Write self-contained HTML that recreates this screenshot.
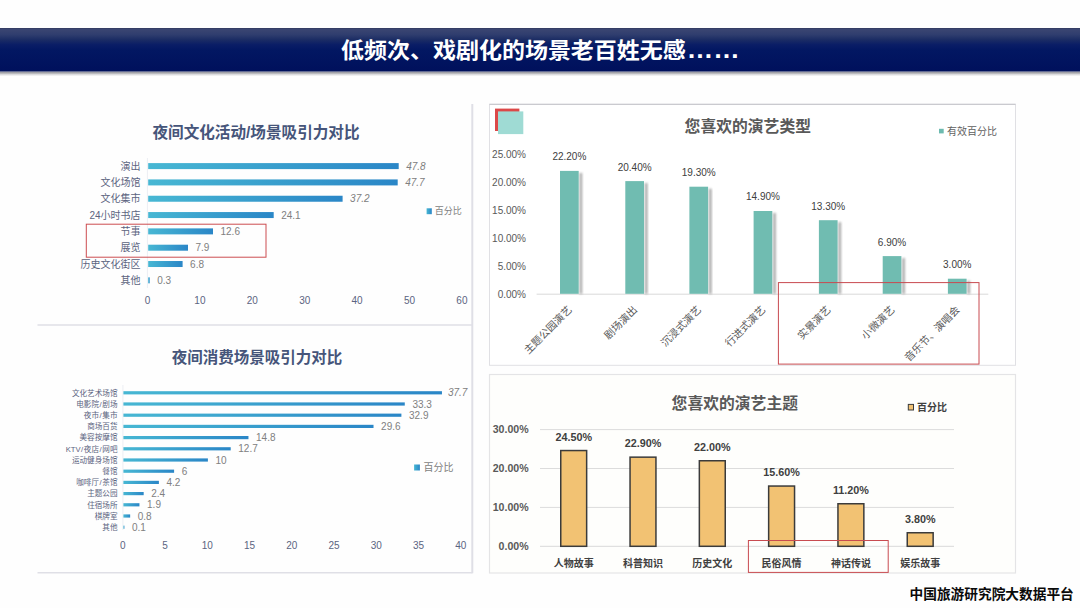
<!DOCTYPE html>
<html><head><meta charset="utf-8"><title>slide</title>
<style>
html,body{margin:0;padding:0;background:#fefefe;}
body{width:1080px;height:608px;overflow:hidden;}
svg{display:block;font-family:"Liberation Sans", "Noto Sans CJK SC", sans-serif;}
</style></head>
<body>
<svg width="1080" height="608" viewBox="0 0 1080 608">
<defs>
<linearGradient id="hdr" x1="0" y1="0" x2="0" y2="1">
<stop offset="0" stop-color="#30385a"/>
<stop offset="0.025" stop-color="#3b4672"/>
<stop offset="0.156" stop-color="#2f3d6e"/>
<stop offset="0.27" stop-color="#1b2c64"/>
<stop offset="0.384" stop-color="#0a1d66"/>
<stop offset="0.506" stop-color="#021762"/>
<stop offset="1" stop-color="#00105c"/>
</linearGradient>
<linearGradient id="hbar" x1="0" y1="0" x2="1" y2="0">
<stop offset="0" stop-color="#47b7d3"/>
<stop offset="1" stop-color="#2a86c7"/>
</linearGradient>
<linearGradient id="hshadow" x1="0" y1="0" x2="0" y2="1">
<stop offset="0" stop-color="#8e8e9a"/>
<stop offset="0.3" stop-color="#aaaaae"/>
<stop offset="0.65" stop-color="#e4e4e6"/>
<stop offset="1" stop-color="#fefefe"/>
</linearGradient>
<filter id="blur1" x="-50%" y="-50%" width="200%" height="200%"><feGaussianBlur stdDeviation="0.8"/></filter>
</defs>
<rect x="0.00" y="0.00" width="1080.00" height="608.00" fill="#fefefe" />
<rect x="0.00" y="71.50" width="1080.00" height="5.00" fill="url(#hshadow)" />
<rect x="0.00" y="28.00" width="1080.00" height="43.50" fill="url(#hdr)" />
<text transform="translate(341,57.6) scale(1,0.96)" x="0" y="0" font-size="23" fill="#ffffff" font-weight="bold">低频次、戏剧化的场景老百姓无感<tspan font-size="26.5" dx="1">……</tspan></text>
<line x1="472.30" y1="103.90" x2="472.30" y2="573.30" stroke="#dfdfe6" stroke-width="2" />
<line x1="37.50" y1="325.00" x2="472.40" y2="325.00" stroke="#dfdfe6" stroke-width="1.5" />
<line x1="37.50" y1="572.80" x2="472.40" y2="572.80" stroke="#dfdfe6" stroke-width="1.5" />
<text x="256.00" y="137.50" font-size="15.6" fill="#46557a" text-anchor="middle" font-weight="bold" >夜间文化活动/场景吸引力对比</text>
<line x1="147.40" y1="158.00" x2="147.40" y2="288.00" stroke="#eceef3" stroke-width="1" />
<rect x="148.20" y="163.10" width="250.50" height="6.00" fill="url(#hbar)" />
<text x="140.50" y="169.70" font-size="10" fill="#5c6480" text-anchor="end" font-weight="normal" >演出</text>
<text x="406.20" y="169.60" font-size="10" fill="#808080" text-anchor="start" font-weight="normal" font-style="italic">47.8</text>
<rect x="148.20" y="179.42" width="249.50" height="6.00" fill="url(#hbar)" />
<text x="140.50" y="186.02" font-size="10" fill="#5c6480" text-anchor="end" font-weight="normal" >文化场馆</text>
<text x="405.20" y="185.92" font-size="10" fill="#808080" text-anchor="start" font-weight="normal" font-style="italic">47.7</text>
<rect x="148.20" y="195.74" width="194.40" height="6.00" fill="url(#hbar)" />
<text x="140.50" y="202.34" font-size="10" fill="#5c6480" text-anchor="end" font-weight="normal" >文化集市</text>
<text x="350.10" y="202.24" font-size="10" fill="#808080" text-anchor="start" font-weight="normal" font-style="italic">37.2</text>
<rect x="148.20" y="212.06" width="125.50" height="6.00" fill="url(#hbar)" />
<text x="140.50" y="218.66" font-size="10" fill="#5c6480" text-anchor="end" font-weight="normal" >24小时书店</text>
<text x="281.20" y="218.56" font-size="10" fill="#808080" text-anchor="start" font-weight="normal" >24.1</text>
<rect x="148.20" y="228.38" width="64.80" height="6.00" fill="url(#hbar)" />
<text x="140.50" y="234.98" font-size="10" fill="#5c6480" text-anchor="end" font-weight="normal" >节事</text>
<text x="220.50" y="234.88" font-size="10" fill="#808080" text-anchor="start" font-weight="normal" >12.6</text>
<rect x="148.20" y="244.70" width="39.80" height="6.00" fill="url(#hbar)" />
<text x="140.50" y="251.30" font-size="10" fill="#5c6480" text-anchor="end" font-weight="normal" >展览</text>
<text x="195.50" y="251.20" font-size="10" fill="#808080" text-anchor="start" font-weight="normal" >7.9</text>
<rect x="148.20" y="261.02" width="34.40" height="6.00" fill="url(#hbar)" />
<text x="140.50" y="267.62" font-size="10" fill="#5c6480" text-anchor="end" font-weight="normal" >历史文化街区</text>
<text x="190.10" y="267.52" font-size="10" fill="#808080" text-anchor="start" font-weight="normal" >6.8</text>
<rect x="148.20" y="277.34" width="1.50" height="6.00" fill="url(#hbar)" />
<text x="140.50" y="283.94" font-size="10" fill="#5c6480" text-anchor="end" font-weight="normal" >其他</text>
<text x="157.20" y="283.84" font-size="10" fill="#808080" text-anchor="start" font-weight="normal" >0.3</text>
<text x="147.50" y="303.80" font-size="10" fill="#5b6481" text-anchor="middle" font-weight="normal" >0</text>
<text x="199.90" y="303.80" font-size="10" fill="#5b6481" text-anchor="middle" font-weight="normal" >10</text>
<text x="252.30" y="303.80" font-size="10" fill="#5b6481" text-anchor="middle" font-weight="normal" >20</text>
<text x="304.70" y="303.80" font-size="10" fill="#5b6481" text-anchor="middle" font-weight="normal" >30</text>
<text x="357.10" y="303.80" font-size="10" fill="#5b6481" text-anchor="middle" font-weight="normal" >40</text>
<text x="409.50" y="303.80" font-size="10" fill="#5b6481" text-anchor="middle" font-weight="normal" >50</text>
<text x="461.90" y="303.80" font-size="10" fill="#5b6481" text-anchor="middle" font-weight="normal" >60</text>
<rect x="426.60" y="208.30" width="5.20" height="5.90" fill="url(#hbar)" />
<text x="434.70" y="214.30" font-size="9" fill="#7f7f7f" text-anchor="start" font-weight="normal" >百分比</text>
<rect x="86.3" y="224.2" width="179.7" height="33" fill="none" stroke="#cc4d50" stroke-width="1"/>
<text x="257.00" y="362.60" font-size="15.5" fill="#46557a" text-anchor="middle" font-weight="bold" >夜间消费场景吸引力对比</text>
<line x1="122.90" y1="385.00" x2="122.90" y2="530.00" stroke="#eceef3" stroke-width="1" />
<rect x="123.40" y="391.20" width="318.56" height="3.20" fill="url(#hbar)" />
<text x="117.50" y="395.50" font-size="7.6" fill="#5c6480" text-anchor="end" font-weight="normal" >文化艺术场馆</text>
<text x="447.97" y="396.40" font-size="10" fill="#808080" text-anchor="start" font-weight="normal" font-style="italic">37.7</text>
<rect x="123.40" y="402.40" width="281.38" height="3.20" fill="url(#hbar)" />
<text x="117.50" y="406.70" font-size="7.6" fill="#5c6480" text-anchor="end" font-weight="normal" >电影院<tspan dx="0.6">/</tspan><tspan dx="0.6">剧场</tspan></text>
<text x="412.38" y="407.60" font-size="10" fill="#808080" text-anchor="start" font-weight="normal" >33.3</text>
<rect x="123.40" y="413.60" width="278.00" height="3.20" fill="url(#hbar)" />
<text x="117.50" y="417.90" font-size="7.6" fill="#5c6480" text-anchor="end" font-weight="normal" >夜市<tspan dx="0.6">/</tspan><tspan dx="0.6">集市</tspan></text>
<text x="409.00" y="418.80" font-size="10" fill="#808080" text-anchor="start" font-weight="normal" >32.9</text>
<rect x="123.40" y="424.80" width="250.12" height="3.20" fill="url(#hbar)" />
<text x="117.50" y="429.10" font-size="7.6" fill="#5c6480" text-anchor="end" font-weight="normal" >商场百货</text>
<text x="381.12" y="430.00" font-size="10" fill="#808080" text-anchor="start" font-weight="normal" >29.6</text>
<rect x="123.40" y="436.00" width="125.06" height="3.20" fill="url(#hbar)" />
<text x="117.50" y="440.30" font-size="7.6" fill="#5c6480" text-anchor="end" font-weight="normal" >美容按摩馆</text>
<text x="256.06" y="441.20" font-size="10" fill="#808080" text-anchor="start" font-weight="normal" >14.8</text>
<rect x="123.40" y="447.20" width="107.31" height="3.20" fill="url(#hbar)" />
<text x="117.50" y="451.50" font-size="7.6" fill="#5c6480" text-anchor="end" font-weight="normal" >KTV<tspan dx="0.6">/</tspan><tspan dx="0.6">夜店<tspan dx="0.6">/</tspan><tspan dx="0.6">网吧</tspan></tspan></text>
<text x="238.31" y="452.40" font-size="10" fill="#808080" text-anchor="start" font-weight="normal" >12.7</text>
<rect x="123.40" y="458.40" width="84.50" height="3.20" fill="url(#hbar)" />
<text x="117.50" y="462.70" font-size="7.6" fill="#5c6480" text-anchor="end" font-weight="normal" >运动健身场馆</text>
<text x="215.50" y="463.60" font-size="10" fill="#808080" text-anchor="start" font-weight="normal" >10</text>
<rect x="123.40" y="469.60" width="50.70" height="3.20" fill="url(#hbar)" />
<text x="117.50" y="473.90" font-size="7.6" fill="#5c6480" text-anchor="end" font-weight="normal" >餐馆</text>
<text x="181.70" y="474.80" font-size="10" fill="#808080" text-anchor="start" font-weight="normal" >6</text>
<rect x="123.40" y="480.80" width="35.49" height="3.20" fill="url(#hbar)" />
<text x="117.50" y="485.10" font-size="7.6" fill="#5c6480" text-anchor="end" font-weight="normal" >咖啡厅<tspan dx="0.6">/</tspan><tspan dx="0.6">茶馆</tspan></text>
<text x="166.49" y="486.00" font-size="10" fill="#808080" text-anchor="start" font-weight="normal" >4.2</text>
<rect x="123.40" y="492.00" width="20.28" height="3.20" fill="url(#hbar)" />
<text x="117.50" y="496.30" font-size="7.6" fill="#5c6480" text-anchor="end" font-weight="normal" >主题公园</text>
<text x="151.28" y="497.20" font-size="10" fill="#808080" text-anchor="start" font-weight="normal" >2.4</text>
<rect x="123.40" y="503.20" width="16.05" height="3.20" fill="url(#hbar)" />
<text x="117.50" y="507.50" font-size="7.6" fill="#5c6480" text-anchor="end" font-weight="normal" >住宿场所</text>
<text x="147.06" y="508.40" font-size="10" fill="#808080" text-anchor="start" font-weight="normal" >1.9</text>
<rect x="123.40" y="514.40" width="6.76" height="3.20" fill="url(#hbar)" />
<text x="117.50" y="518.70" font-size="7.6" fill="#5c6480" text-anchor="end" font-weight="normal" >棋牌室</text>
<text x="137.76" y="519.60" font-size="10" fill="#808080" text-anchor="start" font-weight="normal" >0.8</text>
<rect x="123.40" y="525.60" width="1.00" height="3.20" fill="url(#hbar)" />
<text x="117.50" y="529.90" font-size="7.6" fill="#5c6480" text-anchor="end" font-weight="normal" >其他</text>
<text x="132.00" y="530.80" font-size="10" fill="#808080" text-anchor="start" font-weight="normal" >0.1</text>
<text x="122.70" y="548.60" font-size="10" fill="#5b6481" text-anchor="middle" font-weight="normal" >0</text>
<text x="164.95" y="548.60" font-size="10" fill="#5b6481" text-anchor="middle" font-weight="normal" >5</text>
<text x="207.20" y="548.60" font-size="10" fill="#5b6481" text-anchor="middle" font-weight="normal" >10</text>
<text x="249.45" y="548.60" font-size="10" fill="#5b6481" text-anchor="middle" font-weight="normal" >15</text>
<text x="291.70" y="548.60" font-size="10" fill="#5b6481" text-anchor="middle" font-weight="normal" >20</text>
<text x="333.95" y="548.60" font-size="10" fill="#5b6481" text-anchor="middle" font-weight="normal" >25</text>
<text x="376.20" y="548.60" font-size="10" fill="#5b6481" text-anchor="middle" font-weight="normal" >30</text>
<text x="418.45" y="548.60" font-size="10" fill="#5b6481" text-anchor="middle" font-weight="normal" >35</text>
<text x="460.70" y="548.60" font-size="10" fill="#5b6481" text-anchor="middle" font-weight="normal" >40</text>
<rect x="414.10" y="464.50" width="5.80" height="6.00" fill="url(#hbar)" />
<text x="423.50" y="471.00" font-size="10" fill="#7f7f7f" text-anchor="start" font-weight="normal" >百分比</text>
<rect x="489.5" y="104.3" width="526" height="261" fill="#ffffff" stroke="#e0e0e4" stroke-width="1"/>
<line x1="489.50" y1="104.30" x2="1015.50" y2="104.30" stroke="#c4c4c8" stroke-width="1" />
<rect x="495.00" y="108.60" width="24.40" height="22.40" fill="#dc4848" />
<rect x="498.00" y="111.40" width="25.30" height="22.70" fill="#9fdbd4" />
<text x="747.80" y="131.70" font-size="15.8" fill="#595959" text-anchor="middle" font-weight="bold" >您喜欢的演艺类型</text>
<rect x="939.00" y="128.80" width="4.70" height="4.60" fill="#6cbaaf" />
<text x="947.00" y="134.70" font-size="10" fill="#5f5f5f" text-anchor="start" font-weight="normal" >有效百分比</text>
<text x="526.00" y="297.60" font-size="10" fill="#595959" text-anchor="end" font-weight="normal" >0.00%</text>
<text x="526.00" y="269.68" font-size="10" fill="#595959" text-anchor="end" font-weight="normal" >5.00%</text>
<text x="526.00" y="241.76" font-size="10" fill="#595959" text-anchor="end" font-weight="normal" >10.00%</text>
<text x="526.00" y="213.84" font-size="10" fill="#595959" text-anchor="end" font-weight="normal" >15.00%</text>
<text x="526.00" y="185.92" font-size="10" fill="#595959" text-anchor="end" font-weight="normal" >20.00%</text>
<text x="526.00" y="158.00" font-size="10" fill="#595959" text-anchor="end" font-weight="normal" >25.00%</text>
<line x1="536.60" y1="294.20" x2="988.30" y2="294.20" stroke="#d9d9d9" stroke-width="1" />
<rect x="579.60" y="172.90" width="2.6" height="120.90" fill="#8c8c8c" filter="url(#blur1)" opacity="0.75"/>
<rect x="560.00" y="170.90" width="18.70" height="122.90" fill="#70bcb1" />
<text x="569.35" y="160.30" font-size="10" fill="#404040" text-anchor="middle" font-weight="normal" >22.20%</text>
<text x="572.55" y="310.50" font-size="10.4" fill="#595959" text-anchor="end" transform="rotate(-45 572.55 310.50)">主题公园演艺</text>
<rect x="644.90" y="183.10" width="2.6" height="110.70" fill="#8c8c8c" filter="url(#blur1)" opacity="0.75"/>
<rect x="625.30" y="181.10" width="18.70" height="112.70" fill="#70bcb1" />
<text x="634.65" y="170.50" font-size="10" fill="#404040" text-anchor="middle" font-weight="normal" >20.40%</text>
<text x="637.85" y="310.50" font-size="10.4" fill="#595959" text-anchor="end" transform="rotate(-45 637.85 310.50)">剧场演出</text>
<rect x="709.00" y="188.70" width="2.6" height="105.10" fill="#8c8c8c" filter="url(#blur1)" opacity="0.75"/>
<rect x="689.40" y="186.70" width="18.70" height="107.10" fill="#70bcb1" />
<text x="698.75" y="176.10" font-size="10" fill="#404040" text-anchor="middle" font-weight="normal" >19.30%</text>
<text x="701.95" y="310.50" font-size="10.4" fill="#595959" text-anchor="end" transform="rotate(-45 701.95 310.50)">沉浸式演艺</text>
<rect x="773.20" y="213.00" width="2.6" height="80.80" fill="#8c8c8c" filter="url(#blur1)" opacity="0.75"/>
<rect x="753.60" y="211.00" width="18.70" height="82.80" fill="#70bcb1" />
<text x="762.95" y="200.40" font-size="10" fill="#404040" text-anchor="middle" font-weight="normal" >14.90%</text>
<text x="766.15" y="310.50" font-size="10.4" fill="#595959" text-anchor="end" transform="rotate(-45 766.15 310.50)">行进式演艺</text>
<rect x="838.50" y="222.20" width="2.6" height="71.60" fill="#8c8c8c" filter="url(#blur1)" opacity="0.75"/>
<rect x="818.90" y="220.20" width="18.70" height="73.60" fill="#70bcb1" />
<text x="828.25" y="209.60" font-size="10" fill="#404040" text-anchor="middle" font-weight="normal" >13.30%</text>
<text x="831.45" y="310.50" font-size="10.4" fill="#595959" text-anchor="end" transform="rotate(-45 831.45 310.50)">实景演艺</text>
<rect x="902.30" y="258.10" width="2.6" height="35.70" fill="#8c8c8c" filter="url(#blur1)" opacity="0.75"/>
<rect x="882.70" y="256.10" width="18.70" height="37.70" fill="#70bcb1" />
<text x="892.05" y="245.50" font-size="10" fill="#404040" text-anchor="middle" font-weight="normal" >6.90%</text>
<text x="895.25" y="310.50" font-size="10.4" fill="#595959" text-anchor="end" transform="rotate(-45 895.25 310.50)">小微演艺</text>
<rect x="967.50" y="280.70" width="2.6" height="13.10" fill="#8c8c8c" filter="url(#blur1)" opacity="0.75"/>
<rect x="947.90" y="278.70" width="18.70" height="15.10" fill="#70bcb1" />
<text x="957.25" y="268.10" font-size="10" fill="#404040" text-anchor="middle" font-weight="normal" >3.00%</text>
<text x="960.45" y="310.50" font-size="10.4" fill="#595959" text-anchor="end" transform="rotate(-45 960.45 310.50)">音乐节、演唱会</text>
<rect x="778.4" y="282.6" width="200.6" height="81.5" fill="none" stroke="#c84b50" stroke-width="1"/>
<rect x="489.5" y="374.5" width="526" height="198.5" fill="#fefefc" stroke="#e4e4e6" stroke-width="1.2"/>
<text x="734.80" y="408.70" font-size="15.8" fill="#595959" text-anchor="middle" font-weight="bold" >您喜欢的演艺主题</text>
<rect x="908.3" y="404.4" width="5.2" height="5.6" fill="#f2c273" stroke="#3b3b3b" stroke-width="1"/>
<text x="917.00" y="411.00" font-size="10" fill="#404040" text-anchor="start" font-weight="bold" >百分比</text>
<text x="528.60" y="550.00" font-size="10.6" fill="#595959" text-anchor="end" font-weight="bold" >0.00%</text>
<line x1="540.00" y1="507.40" x2="954.00" y2="507.40" stroke="#dcdcdc" stroke-width="1" />
<text x="528.60" y="511.10" font-size="10.6" fill="#595959" text-anchor="end" font-weight="bold" >10.00%</text>
<line x1="540.00" y1="468.50" x2="954.00" y2="468.50" stroke="#dcdcdc" stroke-width="1" />
<text x="528.60" y="472.20" font-size="10.6" fill="#595959" text-anchor="end" font-weight="bold" >20.00%</text>
<line x1="540.00" y1="429.60" x2="954.00" y2="429.60" stroke="#dcdcdc" stroke-width="1" />
<text x="528.60" y="433.30" font-size="10.6" fill="#595959" text-anchor="end" font-weight="bold" >30.00%</text>
<line x1="540.00" y1="546.30" x2="954.00" y2="546.30" stroke="#d9d9d9" stroke-width="1" />
<rect x="560.75" y="450.55" width="25.90" height="95.75" fill="#f2c273" stroke="#3b3b3b" stroke-width="1.5"/>
<text x="573.70" y="440.60" font-size="10.8" fill="#404040" text-anchor="middle" font-weight="bold" >24.50%</text>
<text x="573.70" y="566.50" font-size="10" fill="#404040" text-anchor="middle" font-weight="bold" >人物故事</text>
<rect x="630.05" y="457.15" width="25.90" height="89.15" fill="#f2c273" stroke="#3b3b3b" stroke-width="1.5"/>
<text x="643.00" y="447.20" font-size="10.8" fill="#404040" text-anchor="middle" font-weight="bold" >22.90%</text>
<text x="643.00" y="566.50" font-size="10" fill="#404040" text-anchor="middle" font-weight="bold" >科普知识</text>
<rect x="699.35" y="460.75" width="25.90" height="85.55" fill="#f2c273" stroke="#3b3b3b" stroke-width="1.5"/>
<text x="712.30" y="450.80" font-size="10.8" fill="#404040" text-anchor="middle" font-weight="bold" >22.00%</text>
<text x="712.30" y="566.50" font-size="10" fill="#404040" text-anchor="middle" font-weight="bold" >历史文化</text>
<rect x="768.65" y="486.05" width="25.90" height="60.25" fill="#f2c273" stroke="#3b3b3b" stroke-width="1.5"/>
<text x="781.60" y="476.10" font-size="10.8" fill="#404040" text-anchor="middle" font-weight="bold" >15.60%</text>
<text x="781.60" y="566.50" font-size="10" fill="#404040" text-anchor="middle" font-weight="bold" >民俗风情</text>
<rect x="837.95" y="503.75" width="25.90" height="42.55" fill="#f2c273" stroke="#3b3b3b" stroke-width="1.5"/>
<text x="850.90" y="493.80" font-size="10.8" fill="#404040" text-anchor="middle" font-weight="bold" >11.20%</text>
<text x="850.90" y="566.50" font-size="10" fill="#404040" text-anchor="middle" font-weight="bold" >神话传说</text>
<rect x="907.25" y="532.75" width="25.90" height="13.55" fill="#f2c273" stroke="#3b3b3b" stroke-width="1.5"/>
<text x="920.20" y="522.80" font-size="10.8" fill="#404040" text-anchor="middle" font-weight="bold" >3.80%</text>
<text x="920.20" y="566.50" font-size="10" fill="#404040" text-anchor="middle" font-weight="bold" >娱乐故事</text>
<rect x="748.4" y="540.5" width="139.8" height="31.9" fill="none" stroke="#c84b50" stroke-width="1"/>
<text x="1073.80" y="598.80" font-size="13.7" fill="#0a0a0a" text-anchor="end" font-weight="bold" >中国旅游研究院大数据平台</text>
</svg>
</body></html>
